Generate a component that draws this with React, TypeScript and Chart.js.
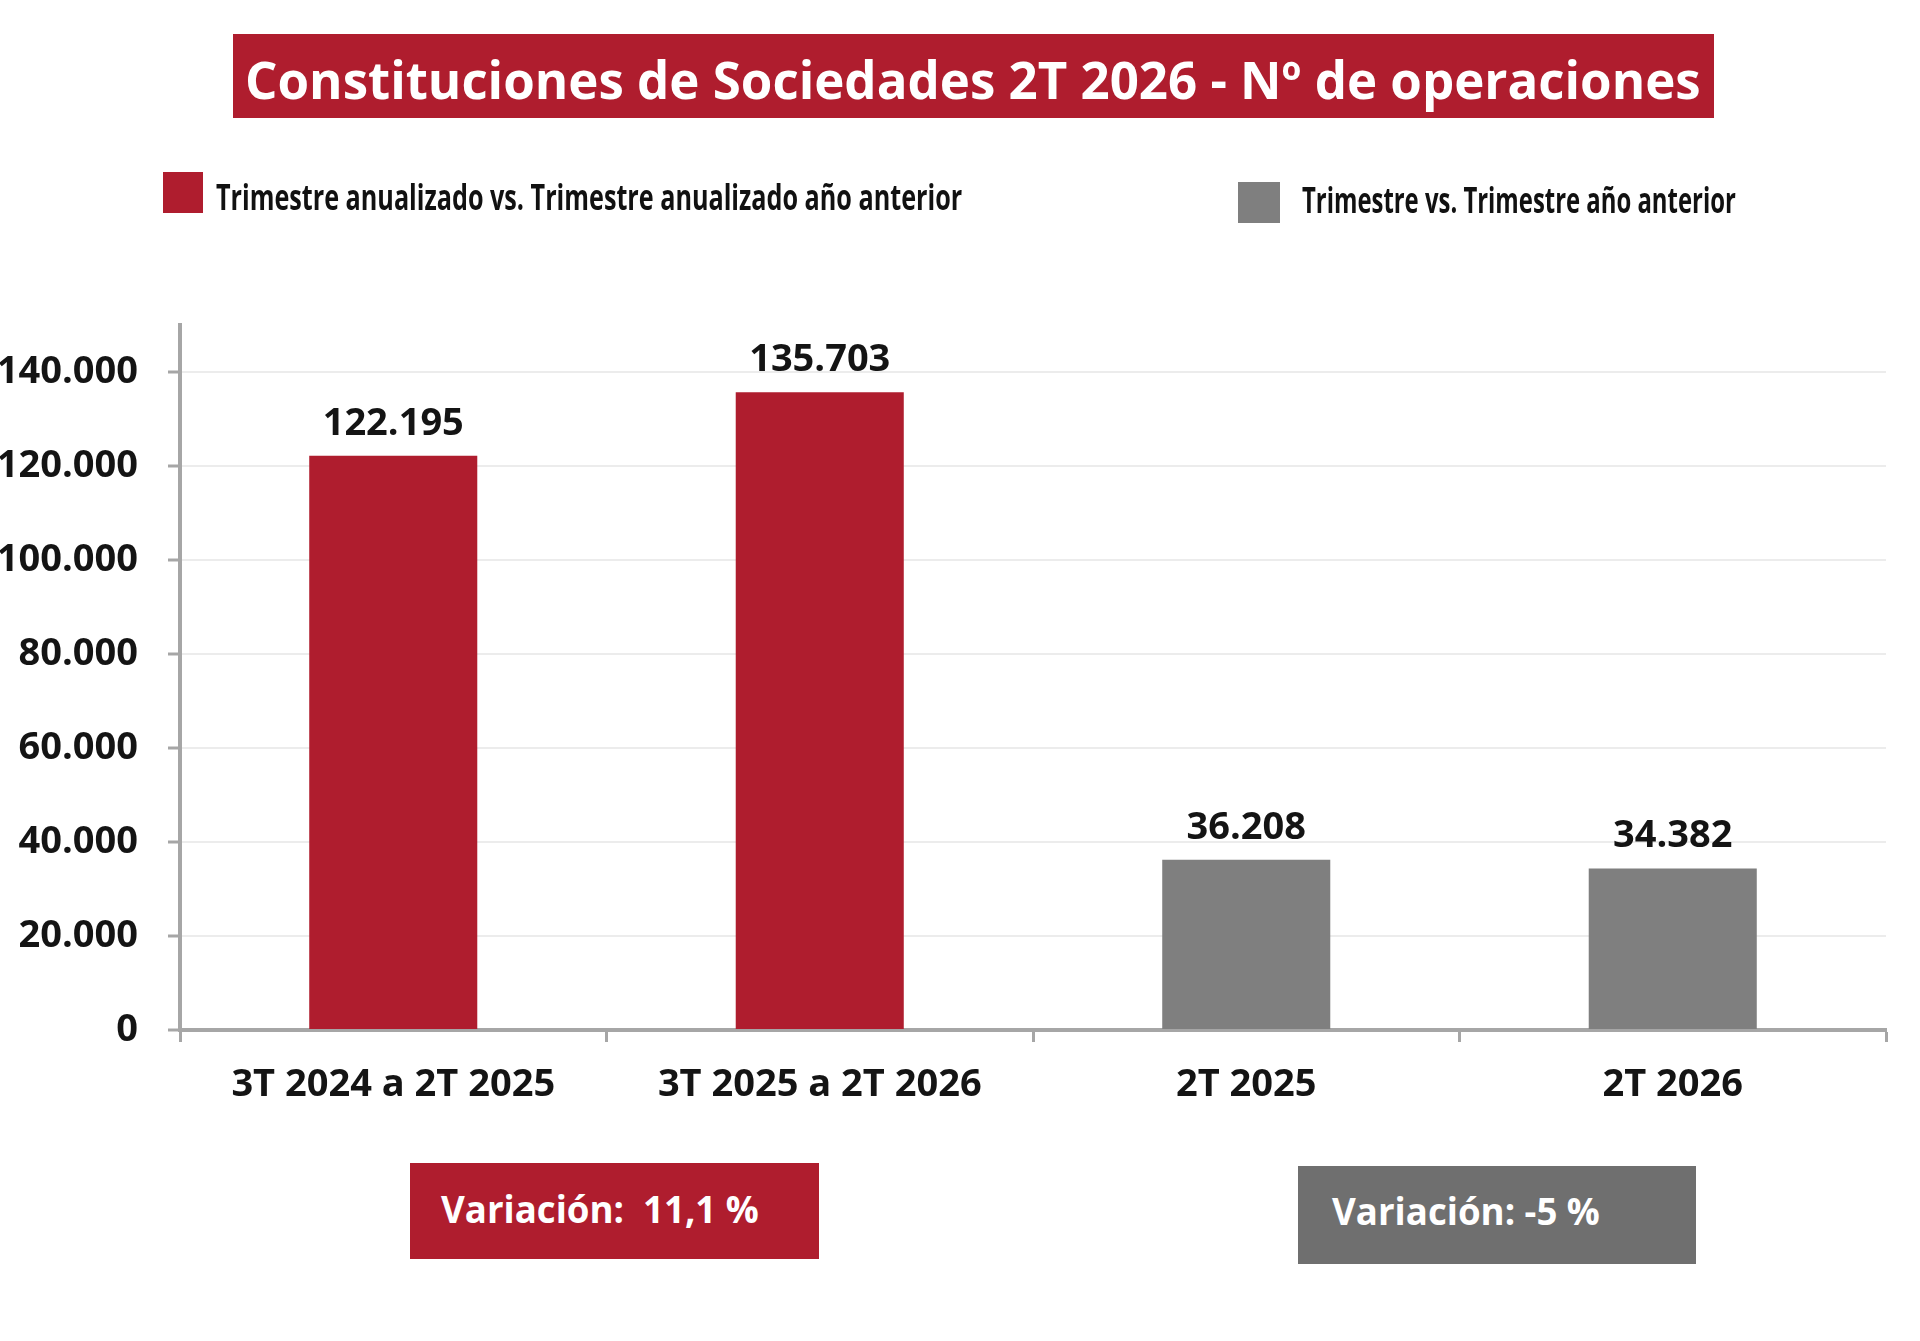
import React, { useEffect, useLayoutEffect, useRef, useState } from 'react';
import { Chart, registerables } from 'chart.js';

Chart.register(...registerables);

const titleText = 'Constituciones de Sociedades 2T 2026 - Nº de operaciones';
const categories = ['3T 2024 a 2T 2025', '3T 2025 a 2T 2026', '2T 2025', '2T 2026'];
const annualValues = [122195, 135703, null, null];
const quarterValues = [null, null, 36208, 34382];
const seriesNames = [
  'Trimestre anualizado vs. Trimestre anualizado año anterior',
  'Trimestre vs. Trimestre año anterior',
];
const variationTexts = ['Variación:  11,1 %', 'Variación: -5 %'];
const yTickValues = [0, 20000, 40000, 60000, 80000, 100000, 120000, 140000];
const yMax = 150000;

const RED = '#af1d2e';
const GREY = '#7f7f7f';
const GREY_BOX = '#6f6f6f';
const AXIS = '#a6a6a6';
const FONT = '"Open Sans", "Noto Sans", sans-serif';

const fmt = (v: number) => String(Math.round(v)).replace(/\B(?=(\d{3})+(?!\d))/g, '.');

// texto estrechado horizontalmente hasta el ancho deseado
function FitText({ text, width, left, top, size, color }) {
  const ref = useRef<HTMLSpanElement>(null);
  const [scale, setScale] = useState(1);

  useLayoutEffect(() => {
    const measure = () => {
      if (ref.current && ref.current.offsetWidth) {
        setScale(width / ref.current.offsetWidth);
      }
    };
    measure();
    if (document.fonts) document.fonts.ready.then(measure);
  }, [text, width]);

  return (
    <span
      ref={ref}
      style={{
        position: 'absolute',
        left,
        top,
        display: 'inline-block',
        whiteSpace: 'pre',
        fontFamily: FONT,
        fontWeight: 700,
        fontSize: size,
        color,
        transform: `translateY(-50%) scaleX(${scale})`,
        transformOrigin: 'left center',
      }}
    >
      {text}
    </span>
  );
}

const valueLabels = {
  id: 'valueLabels',
  afterDatasetsDraw(chart) {
    const ctx = chart.ctx;
    ctx.save();
    ctx.font = `bold 38px ${FONT}`;
    ctx.fillStyle = '#141414';
    ctx.textAlign = 'center';
    ctx.textBaseline = 'middle';
    chart.data.datasets.forEach((ds, i) => {
      chart.getDatasetMeta(i).data.forEach((bar, j) => {
        const v = ds.data[j];
        if (v == null) return;
        ctx.fillText(fmt(v), bar.x, bar.y - 32);
      });
    });
    ctx.restore();
  },
};

function BarChart() {
  const canvasRef = useRef<HTMLCanvasElement>(null);
  const chartRef = useRef<Chart | null>(null);

  useEffect(() => {
    if (!canvasRef.current) return;
    if (chartRef.current) chartRef.current.destroy();

    chartRef.current = new Chart(canvasRef.current, {
      type: 'bar',
      data: {
        labels: categories,
        datasets: [
          {
            label: seriesNames[0],
            data: annualValues,
            backgroundColor: RED,
            grouped: false,
            categoryPercentage: 1,
            barPercentage: 0.394,
          },
          {
            label: seriesNames[1],
            data: quarterValues,
            backgroundColor: GREY,
            grouped: false,
            categoryPercentage: 1,
            barPercentage: 0.394,
          },
        ],
      },
      options: {
        animation: false,
        responsive: false,
        maintainAspectRatio: false,
        layout: { padding: { top: 325, right: 34, left: 0, bottom: 0 } },
        plugins: {
          legend: { display: false },
          title: { display: false },
          tooltip: { enabled: false },
        },
        scales: {
          x: {
            afterFit: (scale) => {
              scale.height = 311;
            },
            border: { display: true, color: AXIS, width: 4 },
            grid: {
              offset: true,
              drawOnChartArea: false,
              drawTicks: true,
              tickLength: 12,
              tickColor: AXIS,
              tickWidth: 3,
            },
            ticks: {
              color: '#141414',
              padding: 20,
              maxRotation: 0,
              font: { family: FONT, size: 38, weight: 'bold' },
            },
          },
          y: {
            min: 0,
            max: yMax,
            afterFit: (scale) => {
              scale.width = 180;
            },
            afterBuildTicks: (scale) => {
              scale.ticks = yTickValues.map((value) => ({ value }));
            },
            border: { display: true, color: AXIS, width: 4 },
            grid: {
              color: '#ececec',
              lineWidth: 2,
              drawTicks: true,
              tickLength: 12,
              tickColor: AXIS,
              tickWidth: 3,
            },
            ticks: {
              color: '#141414',
              padding: 30,
              font: { family: FONT, size: 38, weight: 'bold' },
              callback: (v) => fmt(Number(v)),
            },
          },
        },
      },
      plugins: [valueLabels],
    });

    return () => {
      if (chartRef.current) {
        chartRef.current.destroy();
        chartRef.current = null;
      }
    };
  }, []);

  return (
    <canvas
      ref={canvasRef}
      width={1920}
      height={1341}
      style={{ position: 'absolute', left: 0, top: 0, width: 1920, height: 1341 }}
    />
  );
}

export default function App() {
  return (
    <div
      style={{
        position: 'absolute',
        left: 0,
        top: 0,
        width: 1920,
        height: 1341,
        background: '#fff',
        overflow: 'hidden',
      }}
    >
      <BarChart />

      <div style={{ position: 'absolute', left: 233, top: 34, width: 1481, height: 84, background: RED }} />
      <FitText text={titleText} width={1456} left={245} top={78} size={52} color="#fff" />

      <div style={{ position: 'absolute', left: 163, top: 172, width: 40, height: 41, background: RED }} />
      <FitText text={seriesNames[0]} width={746} left={216} top={196} size={35} color="#111" />
      <div style={{ position: 'absolute', left: 1238, top: 182, width: 42, height: 41, background: GREY }} />
      <FitText text={seriesNames[1]} width={434} left={1302} top={199} size={35} color="#111" />

      <div style={{ position: 'absolute', left: 410, top: 1163, width: 409, height: 96, background: RED }} />
      <FitText text={variationTexts[0]} width={318} left={441} top={1208} size={38} color="#fff" />
      <div style={{ position: 'absolute', left: 1298, top: 1166, width: 398, height: 98, background: GREY_BOX }} />
      <FitText text={variationTexts[1]} width={268} left={1332} top={1210} size={38} color="#fff" />
    </div>
  );
}
